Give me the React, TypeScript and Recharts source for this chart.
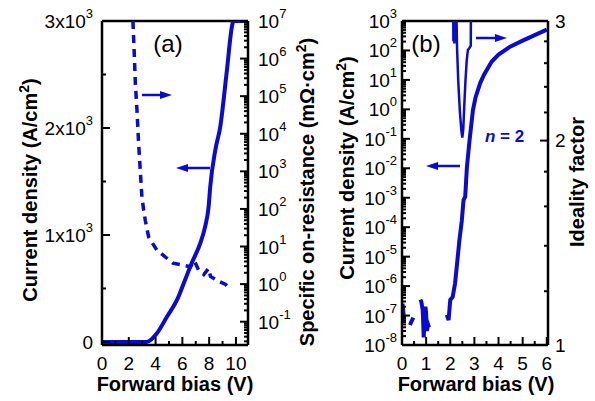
import React from 'react';
import { LineChart, Line, XAxis, YAxis, ReferenceLine } from 'recharts';

// panel (a): current density (linear, left) and specific on-resistance (log, right)
const aCurV = [0, 1, 2, 3, 3.35, 3.7, 4.1, 4.85, 5.6, 6.2, 6.7, 7.34, 7.7, 7.96, 8.08, 8.46, 8.83, 9.3, 9.7, 9.8, 10.8];
const aCurJ = [0, 0, 0, 0, 0, 25, 81, 236, 393, 580, 738, 925, 1078, 1265, 1450, 1794, 2012, 2511, 2947, 3000, 3000];
const aRonV = [2.31, 2.4, 2.49, 2.61, 2.73, 2.98, 3.1, 3.23, 3.48, 4.1, 5.3, 6.6, 6.9, 7.2, 7.6, 7.95, 8.1, 8.6, 9.2, 9.6];
const aRon = [1e7, 1.6e6, 2.2e5, 4.3e4, 5.8e3, 210, 100, 50, 18, 8, 3.6, 2.9, 4.2, 2.4, 1.8, 2.6, 1.6, 1.25, 1.0, 0.72];

// panel (b): current density (log, left) and ideality factor (log, right)
const bCurV = [0.02, 0.05, 0.08, 0.2, 0.33, 0.4, 0.47, 0.6, 0.76, 0.8, 0.86, 0.9, 0.93, 0.97, 1.0, 1.03, 1.08, 1.12, 1.5,
  1.86, 1.93, 2.0, 2.1, 2.2, 2.27, 2.38, 2.48, 2.55, 2.62, 2.69, 2.8, 2.94, 3.05, 3.24, 3.4, 3.72, 4.0, 4.48, 5.0, 5.5, 6.0];
const bCurJ = [2.5e-7, 1.5e-7, 8e-8, null, 4.8e-8, 6.5e-8, 8.5e-8, null, 3.5e-7, 3e-7, 1.5e-7, 1.8e-8, 6e-8, 2e-7, 1.2e-7, 3e-8, 5e-8, 4e-8, null,
  1.05e-7, 7e-8, 3.4e-7, 4.3e-7, 1.25e-6, 4.6e-6, 3.7e-5, 1.7e-4, 8.3e-4, 1.1e-3, 1.1e-2, 0.09, 0.95, 2.6, 7.8, 15, 42, 72, 135, 215, 330, 510];
const bIdV = [2.12, 2.13, 2.15, 2.17, 2.19, 2.2, 2.22, 2.23, 2.24, 2.28, 2.33, 2.4, 2.46, 2.5, 2.54, 2.58, 2.63, 2.68, 2.73, 2.8, 2.85, 2.86];
const bIdN = [3.3, 2.8, 3.3, 2.78, 3.3, 2.85, 3.3, null, 3.3, 2.75, 2.45, 2.2, 2.07, 2.02, 2.08, 2.25, 2.45, 2.62, 2.72, 2.74, 2.76, 3.3];

// ticks
const aXTicks = [0, 2, 4, 6, 8, 10];
const aXMinor = [1, 3, 5, 7, 9];
const aLTicks = [0, 1000, 2000, 3000];
const aLMinor = [500, 1500, 2500];
const aRExps = [-1, 0, 1, 2, 3, 4, 5, 6, 7];
const bXTicks = [0, 1, 2, 3, 4, 5, 6];
const bXMinor = [0.5, 1.5, 2.5, 3.5, 4.5, 5.5];
const bLExps = [-8, -7, -6, -5, -4, -3, -2, -1, 0, 1, 2, 3];
const bRTicks = [1, 2, 3];
const bRMinor = [1.2, 1.4, 1.6, 1.8, 2.2, 2.4, 2.6, 2.8];

const BLUE = '#0a0ad2';
const FONT = '"Liberation Sans", Arial, sans-serif';

const logMinor = (exps: number[]) => {
  const out: number[] = [];
  [exps[0] - 1, ...exps].forEach((e) => {
    for (let m = 2; m <= 9; m++) out.push(m * Math.pow(10, e));
  });
  return out;
};

const sup = (base: string, exp: string | number) => [
  <tspan key="b">{base}</tspan>,
  <tspan key="e" dy={-8} fontSize={13}>{exp}</tspan>,
];

const isMajor = (majors: number[], v: number) => majors.some((m) => Math.abs(m - v) <= Math.abs(m) * 1e-6 + 1e-12);

const mkTick = (side: 'left' | 'right' | 'bottom', majors: number[], label: (v: number) => any, gap: number) =>
  (props: any) => {
    const { x, y, payload } = props;
    const v = payload.value;
    const major = isMajor(majors, v);
    const len = major ? 8 : 4;
    let line;
    let text = null;
    if (side === 'left') {
      line = <line x1={x} y1={y} x2={x + len} y2={y} stroke="#000" strokeWidth={2} />;
      if (major) text = <text x={x - gap} y={y} textAnchor="end" dominantBaseline="central" fontSize={19} fontFamily={FONT} fill="#000">{label(v)}</text>;
    } else if (side === 'right') {
      line = <line x1={x} y1={y} x2={x - len} y2={y} stroke="#000" strokeWidth={2} />;
      if (major) text = <text x={x + gap} y={y} textAnchor="start" dominantBaseline="central" fontSize={19} fontFamily={FONT} fill="#000">{label(v)}</text>;
    } else {
      line = <line x1={x} y1={y} x2={x} y2={y - len} stroke="#000" strokeWidth={2} />;
      if (major) text = <text x={x} y={y + gap} textAnchor="middle" fontSize={19} fontFamily={FONT} fill="#000">{label(v)}</text>;
    }
    return <g>{line}{text}</g>;
  };

const axisLine = { stroke: '#000', strokeWidth: 2.5 };

const aCur = aCurV.map((v, i) => ({ v, j: aCurJ[i] }));
const aRonData = aRonV.map((v, i) => ({ v, r: aRon[i] }));
const bCur = bCurV.map((v, i) => ({ v, j: bCurJ[i] }));
const bId = bIdV.map((v, i) => ({ v, n: bIdN[i] }));

const Arrow = ({ x1, x2, y }: { x1: number; x2: number; y: number }) => {
  const dir = x2 > x1 ? 1 : -1;
  const hx = x2 - dir * 12;
  return (
    <g>
      <line x1={x1} y1={y} x2={hx} y2={y} stroke={BLUE} strokeWidth={2.5} />
      <polygon points={`${x2},${y} ${hx},${y - 4} ${hx},${y + 4}`} fill={BLUE} />
    </g>
  );
};

export default function App() {
  const aX = [...aXTicks, ...aXMinor].sort((p, q) => p - q);
  const aL = [...aLTicks, ...aLMinor].sort((p, q) => p - q);
  const aRMaj = aRExps.map((e) => Math.pow(10, e));
  const aR = [...aRMaj, ...logMinor(aRExps).filter((t) => t < 1e7 && t > 0.024)].sort((p, q) => p - q);
  const bX = [...bXTicks, ...bXMinor].sort((p, q) => p - q);
  const bLMaj = bLExps.map((e) => Math.pow(10, e));
  const bL = [...bLMaj, ...logMinor(bLExps).filter((t) => t < 1e3 && t > 1e-8)].sort((p, q) => p - q);
  const bR = [...bRTicks, ...bRMinor].sort((p, q) => p - q);

  return (
    <div style={{ position: 'absolute', left: 0, top: 0, width: 595, height: 401, background: '#fff', fontFamily: FONT }}>
      <div style={{ position: 'absolute', left: 0, top: 0 }}>
        <LineChart width={300} height={401} margin={{ top: 21, left: 12, right: 2, bottom: 16 }}>
          <XAxis type="number" dataKey="v" domain={[0, 10.9]} allowDataOverflow ticks={aX} interval={0} height={40}
            tickSize={0} tickMargin={0} tickLine={false} axisLine={axisLine}
            tick={mkTick('bottom', aXTicks, (v) => String(v), 25)} />
          <YAxis yAxisId="L" type="number" domain={[-28, 3000]} allowDataOverflow ticks={aL} interval={0} width={90}
            tickSize={0} tickMargin={0} tickLine={false} axisLine={axisLine}
            tick={mkTick('left', aLTicks, (v) => (v === 0 ? '0' : sup(`${v / 1000}x10`, 3)), 9)} />
          <YAxis yAxisId="R" orientation="right" type="number" scale="log" domain={[0.024, 1e7]} allowDataOverflow ticks={aR}
            interval={0} width={50} tickSize={0} tickMargin={0} tickLine={false} axisLine={axisLine}
            tick={mkTick('right', aRMaj, (v) => sup('10', Math.round(Math.log10(v))), 10)} />
          <ReferenceLine yAxisId="L" y={3000} stroke="#000" strokeWidth={2.5} />
          <Line data={aCur} yAxisId="L" dataKey="j" type="monotone" stroke={BLUE} strokeWidth={4} dot={false} isAnimationActive={false} />
          <Line data={aRonData} yAxisId="R" dataKey="r" stroke={BLUE} strokeWidth={3.5} strokeDasharray="8 6"
            dot={false} isAnimationActive={false} />
        </LineChart>
      </div>
      <div style={{ position: 'absolute', left: 300, top: 0 }}>
        <LineChart width={295} height={401} margin={{ top: 21, left: 12, right: 2, bottom: 16 }}>
          <XAxis type="number" dataKey="v" domain={[0, 6.05]} allowDataOverflow ticks={bX} interval={0} height={40}
            tickSize={0} tickMargin={0} tickLine={false} axisLine={axisLine}
            tick={mkTick('bottom', bXTicks, (v) => String(v), 25)} />
          <YAxis yAxisId="L" type="number" scale="log" domain={[1e-8, 1e3]} allowDataOverflow ticks={bL} interval={0} width={90}
            tickSize={0} tickMargin={0} tickLine={false} axisLine={axisLine}
            tick={mkTick('left', bLMaj, (v) => sup('10', Math.round(Math.log10(v))), 5)} />
          <YAxis yAxisId="R" orientation="right" type="number" scale="log" domain={[1, 3]} allowDataOverflow ticks={bR}
            interval={0} width={45} tickSize={0} tickMargin={0} tickLine={false} axisLine={axisLine}
            tick={mkTick('right', bRTicks, (v) => String(v), 7)} />
          <ReferenceLine yAxisId="L" y={1000} stroke="#000" strokeWidth={2.5} />
          <Line data={bCur} yAxisId="L" dataKey="j" stroke={BLUE} strokeWidth={4} dot={false} isAnimationActive={false} />
          <Line data={bId} yAxisId="R" dataKey="n" stroke={BLUE} strokeWidth={2.5} dot={false} isAnimationActive={false} />
        </LineChart>
      </div>
      <svg width={595} height={401} style={{ position: 'absolute', left: 0, top: 0, pointerEvents: 'none' }}>
        <g fontFamily={FONT} fill="#000">
          <text x={168} y={52} textAnchor="middle" fontSize={24}>(a)</text>
          <text x={426} y={52} textAnchor="middle" fontSize={24}>(b)</text>
          <text x={485} y={142} fontSize={17} fontWeight="bold" fill={BLUE}>
            <tspan fontStyle="italic">n</tspan> = 2
          </text>
          <text x={175} y={391} textAnchor="middle" fontSize={20} fontWeight="bold">Forward bias (V)</text>
          <text x={476} y={391} textAnchor="middle" fontSize={20} fontWeight="bold">Forward bias (V)</text>
          <text transform="translate(37,190) rotate(-90)" textAnchor="middle" fontSize={20} fontWeight="bold">
            Current density (A/cm<tspan dy={-8} fontSize={14}>2</tspan><tspan dy={8}>)</tspan>
          </text>
          <text transform="translate(314,192) rotate(-90)" textAnchor="middle" fontSize={20} fontWeight="bold">
            Specific on-resistance (mΩ·cm<tspan dy={-8} fontSize={14}>2</tspan><tspan dy={8}>)</tspan>
          </text>
          <text transform="translate(354,168) rotate(-90)" textAnchor="middle" fontSize={20} fontWeight="bold">
            Current density (A/cm<tspan dy={-8} fontSize={14}>2</tspan><tspan dy={8}>)</tspan>
          </text>
          <text transform="translate(584,182) rotate(-90)" textAnchor="middle" fontSize={20} fontWeight="bold">Ideality factor</text>
        </g>
        <Arrow x1={142} x2={172} y={95} />
        <Arrow x1={210} x2={176} y={168} />
        <Arrow x1={460} x2={426} y={166} />
        <Arrow x1={476} x2={507} y={38} />
      </svg>
    </div>
  );
}
